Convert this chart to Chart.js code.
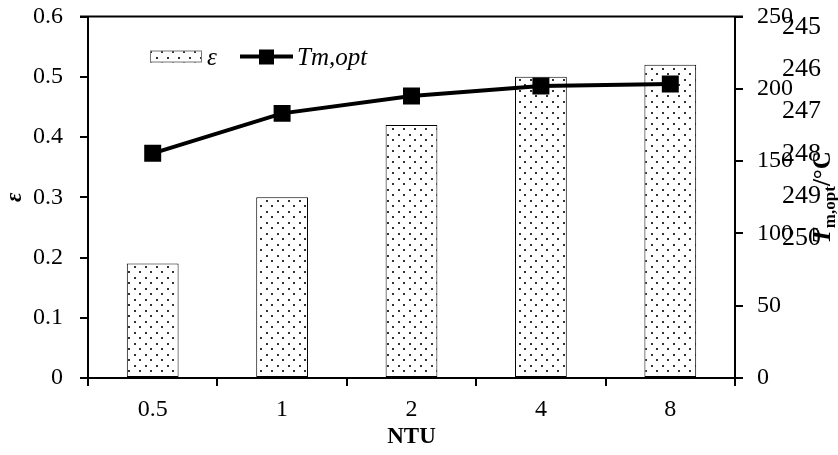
<!DOCTYPE html>
<html><head><meta charset="utf-8">
<script src="https://cdn.jsdelivr.net/npm/chart.js@4.4.0/dist/chart.umd.min.js"></script>
<style>html,body{margin:0;padding:0;background:#fff;}</style>
</head><body>
<canvas id="c" width="838" height="455"></canvas>
<script>
const categories = ['0.5', '1', '2', '4', '8'];
const effectiveness = [0.19, 0.30, 0.42, 0.50, 0.52];
const tmOpt = [155.4, 183.0, 195.0, 201.9, 203.3];
const leftRange = [0, 0.6, 0.1];
const rightRange = [0, 250, 50];
const ghostLabels = ['245', '246', '247', '248', '249', '250'];

const FONT = '"Liberation Serif", "Times New Roman", serif';

function dotPattern() {
  const t = document.createElement('canvas');
  t.width = 11; t.height = 11;
  const g = t.getContext('2d');
  g.fillStyle = '#fff'; g.fillRect(0, 0, 11, 11);
  g.fillStyle = '#333';
  g.fillRect(2, 2, 2, 2);
  g.fillRect(7, 7, 2, 2);
  return g.createPattern(t, 'repeat');
}
const pattern = dotPattern();

const decor = {
  id: 'decor',
  afterDraw(chart) {
    const { ctx, chartArea: a } = chart;
    ctx.save();
    // top frame line
    ctx.strokeStyle = '#000'; ctx.lineWidth = 2;
    ctx.beginPath(); ctx.moveTo(a.left - 8, a.top); ctx.lineTo(a.right + 8, a.top); ctx.stroke();

    // legend
    const ds = chart.data.datasets;
    const lx = a.left + 62, ly = a.top + 34;
    ctx.fillStyle = pattern; ctx.fillRect(lx, ly, 52, 12);
    ctx.strokeStyle = '#777'; ctx.lineWidth = 1; ctx.strokeRect(lx + 0.5, ly + 0.5, 51, 11);
    ctx.fillStyle = '#000';
    ctx.font = 'italic 25px ' + FONT;
    ctx.textBaseline = 'alphabetic'; ctx.textAlign = 'left';
    ctx.fillText(ds[0].label, lx + 57, ly + 14);
    const mx = lx + 90;
    ctx.strokeStyle = '#000'; ctx.lineWidth = 4;
    ctx.beginPath(); ctx.moveTo(mx, ly + 6); ctx.lineTo(mx + 53, ly + 6); ctx.stroke();
    ctx.fillRect(mx + 19, ly - 1, 15, 15);
    ctx.fillText(ds[1].label, mx + 57, ly + 14);

    // stray right-hand labels
    ctx.font = '26px ' + FONT;
    ctx.textBaseline = 'middle';
    ghostLabels.forEach((t, i) => ctx.fillText(t, a.right + 47, a.top + 10.5 + i * 42.3));

    // right axis title
    ctx.translate(a.right + 95, (a.top + a.bottom) / 2);
    ctx.rotate(-Math.PI / 2);
    ctx.textBaseline = 'alphabetic';
    const parts = [
      ['T', 'bold italic 25px ' + FONT, 0],
      ['m,opt', 'bold 17px ' + FONT, 5],
      ['/°C', 'bold 25px ' + FONT, 0]
    ];
    let total = 0;
    parts.forEach(p => { ctx.font = p[1]; total += ctx.measureText(p[0]).width; });
    let x = -total / 2;
    parts.forEach(p => { ctx.font = p[1]; ctx.fillText(p[0], x, p[2]); x += ctx.measureText(p[0]).width; });
    ctx.restore();
  }
};

function fixVertical(width) {
  return function (s) { s.width = width; s.paddingTop = 8; s.paddingBottom = 8; };
}

new Chart(document.getElementById('c'), {
  data: {
    labels: categories,
    datasets: [
      {
        type: 'bar', label: 'ε', data: effectiveness, yAxisID: 'y',
        backgroundColor: pattern, borderColor: '#000', borderWidth: 1, borderSkipped: false,
        barPercentage: 0.4, categoryPercentage: 1.0, order: 2
      },
      {
        type: 'line', label: 'Tm,opt', data: tmOpt, yAxisID: 'y1',
        borderColor: '#000', borderWidth: 4, tension: 0,
        pointStyle: 'rect', pointRadius: 12, pointHoverRadius: 12,
        pointBackgroundColor: '#000', pointBorderColor: '#000', pointBorderWidth: 0,
        order: 1
      }
    ]
  },
  options: {
    responsive: false, animation: false, devicePixelRatio: 1,
    layout: { padding: { top: 16.5, left: 0, right: 0, bottom: 0 } },
    plugins: { legend: { display: false }, tooltip: { enabled: false } },
    scales: {
      x: {
        grid: { display: true, drawOnChartArea: false, offset: true, tickLength: 8, color: '#000', lineWidth: 2 },
        border: { display: true, color: '#000', width: 2 },
        ticks: { color: '#000', font: { family: FONT, size: 24 }, padding: 9 },
        title: { display: true, text: 'NTU', color: '#000', font: { family: FONT, size: 23, weight: 'bold' }, padding: { top: 0, bottom: 4 } },
        afterFit(s) { s.height = 77; s.paddingLeft = 0; s.paddingRight = 0; }
      },
      y: {
        position: 'left', min: leftRange[0], max: leftRange[1],
        grid: { display: true, drawOnChartArea: false, tickLength: 8, color: '#000', lineWidth: 2 },
        border: { display: true, color: '#000', width: 2 },
        ticks: { stepSize: leftRange[2], color: '#000', font: { family: FONT, size: 24 }, padding: 17 },
        title: { display: true, text: 'ε', color: '#000', font: { family: FONT, size: 23, weight: 'bold', style: 'italic' }, padding: { top: 1, bottom: 0 } },
        afterFit: fixVertical(88)
      },
      y1: {
        position: 'right', min: rightRange[0], max: rightRange[1],
        grid: { display: true, drawOnChartArea: false, tickLength: 8, color: '#000', lineWidth: 2 },
        border: { display: true, color: '#000', width: 2 },
        ticks: { stepSize: rightRange[2], color: '#000', font: { family: FONT, size: 24 }, padding: 14 },
        afterFit: fixVertical(103)
      }
    }
  },
  plugins: [decor]
});
</script>
</body></html>
